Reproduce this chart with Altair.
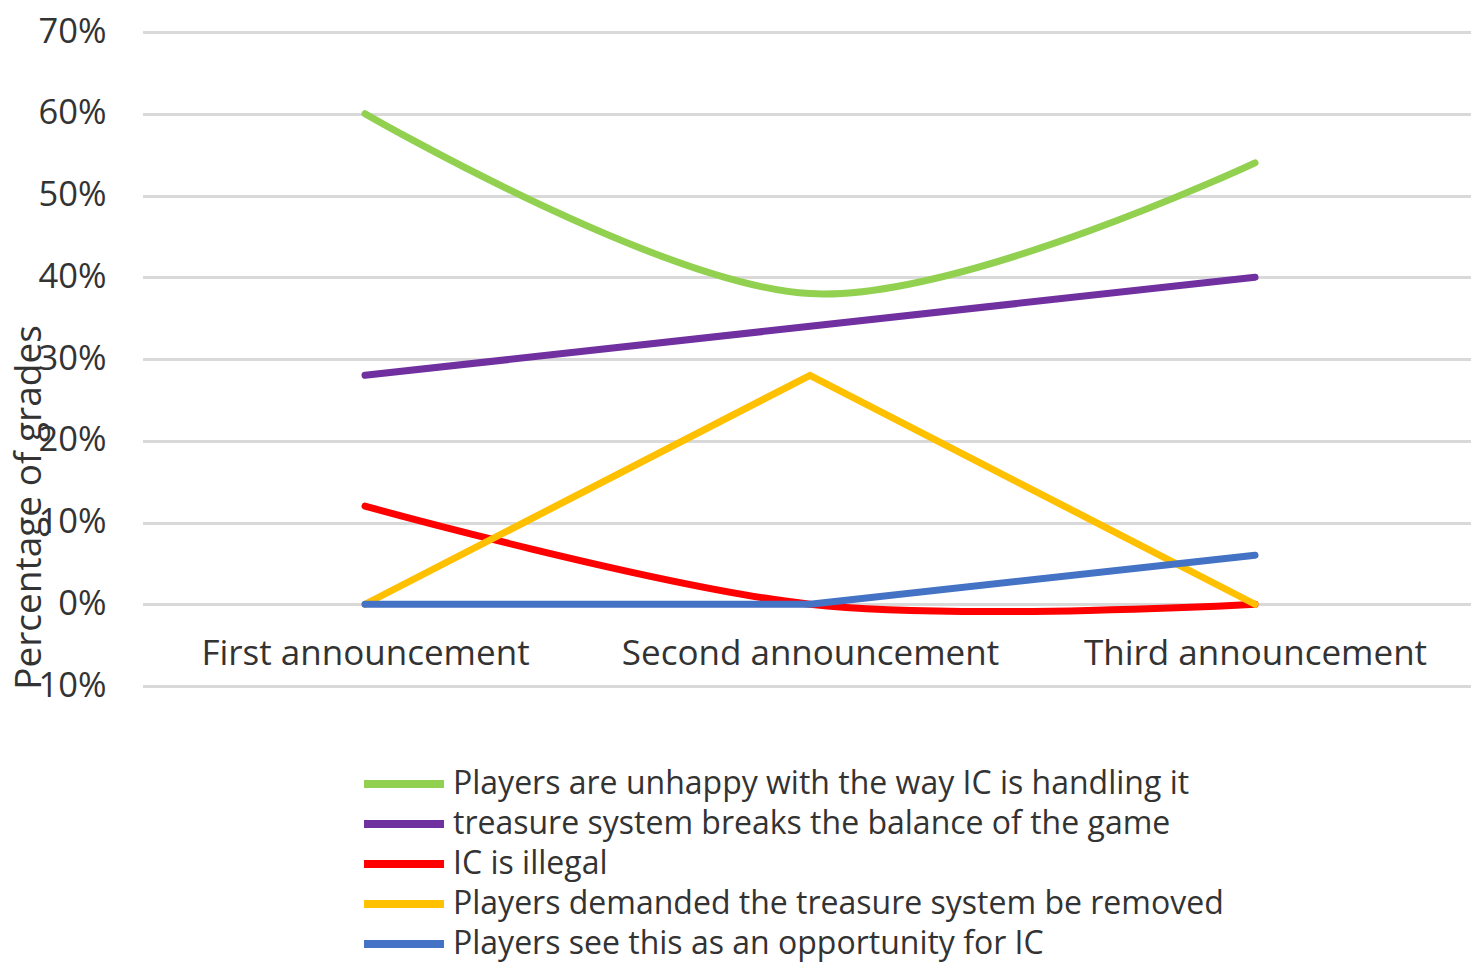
import altair as alt
import pandas as pd

categories = ["First announcement", "Second announcement", "Third announcement"]
series_names = [
    "Players are unhappy with the way IC is handling it",
    "treasure system breaks the balance of the game",
    "IC is illegal",
    "Players demanded the treasure system be removed",
    "Players see this as an opportunity for IC",
]
unhappy = [0.60, 0.38, 0.54]
balance = [0.28, 0.34, 0.40]
illegal = [0.12, 0.00, 0.00]
removed = [0.00, 0.28, 0.00]
opportunity = [0.00, 0.00, 0.06]
colors = ["#92D050", "#7030A0", "#FF0000", "#FFC000", "#4472C4"]
smooth = [True, False, True, False, False]
y_ticks = [-0.1, 0.0, 0.1, 0.2, 0.3, 0.4, 0.5, 0.6, 0.7]

values = [unhappy, balance, illegal, removed, opportunity]
rows = []
for name, vals in zip(series_names, values):
    for c, v in zip(categories, vals):
        rows.append({"category": c, "series": name, "value": v})
df = pd.DataFrame(rows)

FONT = "Open Sans"
TXT = "#333333"

x_enc = alt.X(
    "category:N",
    sort=categories,
    scale=alt.Scale(type="point", padding=0.5, range=[2.5, 1337.5]),
    axis=alt.Axis(
        title=None, orient="bottom", offset=-82, domain=False, ticks=False,
        tickSize=0, labelPadding=32, labelFontSize=35, labelFont=FONT,
        labelColor=TXT, grid=False, labelAngle=0, labelLimit=1000,
    ),
)
y_enc = alt.Y(
    "value:Q",
    scale=alt.Scale(domain=[-0.1, 0.7], nice=False, zero=False),
    axis=alt.Axis(
        values=y_ticks, format=".0%", title="Percentage of grades",
        titleFontSize=37, titleFont=FONT, titleColor=TXT, titleFontWeight="normal",
        titleAngle=-90, titleX=-111, titleY=475, titleAlign="center",
        titleBaseline="middle",
        labelFontSize=34.5, labelFont=FONT, labelColor=TXT, labelPadding=34,
        domain=False, ticks=False, tickSize=0,
        grid=True, gridColor="#D9D9D9", gridWidth=3,
    ),
)
color_enc = alt.Color(
    "series:N",
    scale=alt.Scale(domain=series_names, range=colors),
    legend=alt.Legend(
        title=None, orient="none", legendX=240, legendY=728, direction="vertical",
        symbolType="M-2,0H2", symbolSize=1600, symbolStrokeWidth=8,
        labelFontSize=32, labelFont=FONT, labelColor=TXT, labelOffset=25,
        rowPadding=0, padding=0, labelLimit=1000,
    ),
)

layers = []
for name, sm in zip(series_names, smooth):
    layers.append(
        alt.Chart(df)
        .transform_filter(alt.datum.series == name)
        .mark_line(interpolate="cardinal" if sm else "linear", strokeWidth=7, strokeCap="round")
        .encode(x=x_enc, y=y_enc, color=color_enc)
    )

chart = (
    alt.layer(*layers)
    .properties(
        width=1331, height=654,
        autosize=alt.AutoSizeParams(type="none"),
        padding={"left": 132, "top": 24, "right": 0, "bottom": 280},
        view=alt.ViewBackground(stroke=None, strokeWidth=0),
    )
    .configure_view(strokeWidth=0, stroke=None)
    .configure_axisX(grid=False)
    .configure(background="white")
)

chart.save("out.html", embed_options={"renderer": "svg", "actions": False})
